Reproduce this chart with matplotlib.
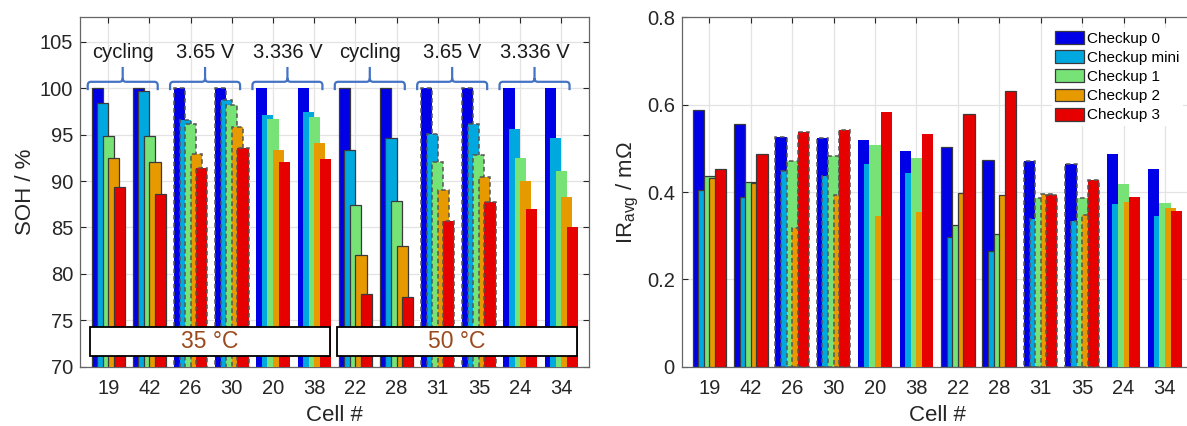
import matplotlib
matplotlib.use('Agg')
import matplotlib.pyplot as plt
import numpy as np
from matplotlib.path import Path
from matplotlib.patches import PathPatch, Rectangle

plt.rcParams['font.family'] = ['Liberation Sans', 'DejaVu Sans']

# data
cells = ['19', '42', '26', '30', '20', '38', '22', '28', '31', '35', '24', '34']
series = ['Checkup 0', 'Checkup mini', 'Checkup 1', 'Checkup 2', 'Checkup 3']

soh_c0 = [100, 100, 100, 100, 100, 100, 100, 100, 100, 100, 100, 100]
soh_mini = [98.4, 99.7, 96.6, 98.7, 97.1, 97.4, 93.4, 94.6, 95.1, 96.1, 95.6, 94.6]
soh_c1 = [94.9, 94.9, 96.2, 98.2, 96.7, 96.9, 87.4, 87.9, 92.1, 92.8, 92.5, 91.1]
soh_c2 = [92.5, 92.1, 92.9, 95.8, 93.4, 94.1, 82.0, 83.0, 89.0, 90.4, 90.0, 88.3]
soh_c3 = [89.4, 88.6, 91.4, 93.6, 92.1, 92.4, 77.8, 77.5, 85.7, 87.8, 87.0, 85.1]

ir_c0 = [0.587, 0.556, 0.527, 0.524, 0.520, 0.494, 0.504, 0.473, 0.470, 0.463, 0.487, 0.452]
ir_mini = [0.405, 0.388, 0.448, 0.437, 0.464, 0.443, 0.298, 0.266, 0.339, 0.334, 0.373, 0.345]
ir_c1 = [0.437, 0.424, 0.471, 0.482, 0.507, 0.478, 0.325, 0.303, 0.386, 0.386, 0.418, 0.375]
ir_c2 = [0.431, 0.420, 0.317, 0.394, 0.344, 0.354, 0.397, 0.392, 0.395, 0.347, 0.377, 0.363]
ir_c3 = [0.453, 0.486, 0.537, 0.541, 0.583, 0.533, 0.579, 0.631, 0.392, 0.427, 0.389, 0.357]

# storage condition per cell -> edge style
cond = ['cycling', 'cycling', '3.65 V', '3.65 V', '3.336 V', '3.336 V',
        'cycling', 'cycling', '3.65 V', '3.65 V', '3.336 V', '3.336 V']
brace_labels = ['cycling', '3.65 V', '3.336 V', 'cycling', '3.65 V', '3.336 V']
temp_labels = ['35 °C', '50 °C']
soh_ticks = [70, 75, 80, 85, 90, 95, 100, 105]
ir_ticks = [0, 0.2, 0.4, 0.6, 0.8]
ir_ticklabels = ['0', '0.2', '0.4', '0.6', '0.8']

colors = ['#0000E6', '#00A8E0', '#77E377', '#E69A00', '#E60000']

x = np.arange(1, len(cells) + 1)
W = 0.27
STEP = 0.135


def bars(ax, data):
    handles = []
    for i, vals in enumerate(data):
        cont = ax.bar(x + (i - 2) * STEP, vals, W, color=colors[i], zorder=2 + i)
        for p, c in zip(cont.patches, cond):
            if c == 'cycling':
                p.set_edgecolor('#3a3a3a')
                p.set_linewidth(0.9)
            elif c == '3.65 V':
                p.set_edgecolor('#555555')
                p.set_linewidth(1.1)
                p.set_linestyle((0, (3, 2)))
            else:
                p.set_edgecolor('none')
                p.set_linewidth(0)
        handles.append(cont)
    return handles


def style(ax):
    ax.set_axisbelow(True)
    ax.grid(True, color='#e3e3e3', lw=0.9, zorder=0)
    ax.tick_params(direction='in', top=True, right=True, length=4,
                   labelsize=14.5, colors='#262626', width=0.8)
    ax.tick_params(axis='x', pad=9)
    ax.tick_params(axis='y', pad=5)
    for s in ax.spines.values():
        s.set_color('#666666')
        s.set_linewidth(0.9)
    ax.set_xticks(x)
    ax.set_xticklabels(cells)
    ax.set_xlabel('Cell #', fontsize=16, color='#262626', labelpad=5)


def brace(ax, xa, xb, yb, color):
    xm = (xa + xb) / 2
    rx, ry = 0.08, 0.4
    verts = [(xa, yb - 0.9), (xa, yb - ry), (xa, yb), (xa + rx, yb),
             (xm - rx, yb), (xm, yb), (xm, yb + ry), (xm, yb + 1.6),
             (xm, yb + ry), (xm, yb), (xm + rx, yb),
             (xb - rx, yb), (xb, yb), (xb, yb - ry), (xb, yb - 0.9)]
    codes = [Path.MOVETO, Path.LINETO, Path.CURVE3, Path.CURVE3,
             Path.LINETO, Path.CURVE3, Path.CURVE3, Path.LINETO,
             Path.MOVETO, Path.CURVE3, Path.CURVE3,
             Path.LINETO, Path.CURVE3, Path.CURVE3, Path.LINETO]
    ax.add_patch(PathPatch(Path(verts, codes), fc='none', ec=color, lw=1.6, zorder=10))


fig = plt.figure(figsize=(11.87, 4.26), dpi=100)
ax1 = fig.add_axes([80 / 1187, 59.3 / 426, 509.3 / 1187, 349.4 / 426])
ax2 = fig.add_axes([681.7 / 1187, 59.3 / 426, 511 / 1187, 349.4 / 426])

# left: SOH
bars(ax1, [soh_c0, soh_mini, soh_c1, soh_c2, soh_c3])
style(ax1)
ax1.set_xlim(0.313, 12.68)
ax1.set_ylim(70, 107.65)
ax1.set_yticks(soh_ticks)
ax1.set_ylabel('SOH / %', fontsize=16, color='#262626', labelpad=3)

for k, lab in enumerate(brace_labels):
    xa = 2 * k + 1 - 0.5
    xb = 2 * k + 2 + 0.2
    brace(ax1, xa, xb, 100.7, '#4472C4')
    ax1.text((xa + xb) / 2, 103.9, lab, ha='center', va='center',
             fontsize=14.5, color='#1a1a1a', zorder=11)

for k, lab in enumerate(temp_labels):
    x0 = 6 * k + 1 - 0.44
    x1 = 6 * k + 6 + 0.38
    ax1.add_patch(Rectangle((x0, 71.15), x1 - x0, 3.15, fc='white', ec='black',
                            lw=1.3, zorder=20))
    ax1.text((x0 + x1) / 2, 72.72, lab, ha='center', va='center', fontsize=16.5,
             color='#9A4A1C', zorder=21)

# right: IR
h = bars(ax2, [ir_c0, ir_mini, ir_c1, ir_c2, ir_c3])
style(ax2)
ax2.set_xlim(0.333, 12.67)
ax2.set_ylim(0, 0.8)
ax2.set_yticks(ir_ticks)
ax2.set_yticklabels(ir_ticklabels)
ax2.set_ylabel('IR$_{\\mathregular{avg}}$ / mΩ', fontsize=16, color='#262626', labelpad=4)

leg = ax2.legend(h, series, loc='upper left', bbox_to_anchor=(1052 / 1187, 1 - 28 / 426),
                 bbox_transform=fig.transFigure, fontsize=11, frameon=True,
                 facecolor='white', edgecolor='none', framealpha=1, fancybox=False,
                 handlelength=1.9, handleheight=0.9, labelspacing=0.3,
                 handletextpad=0.2, borderpad=0.2, borderaxespad=0)
leg.set_zorder(30)

fig.savefig('out.png', dpi=100)
